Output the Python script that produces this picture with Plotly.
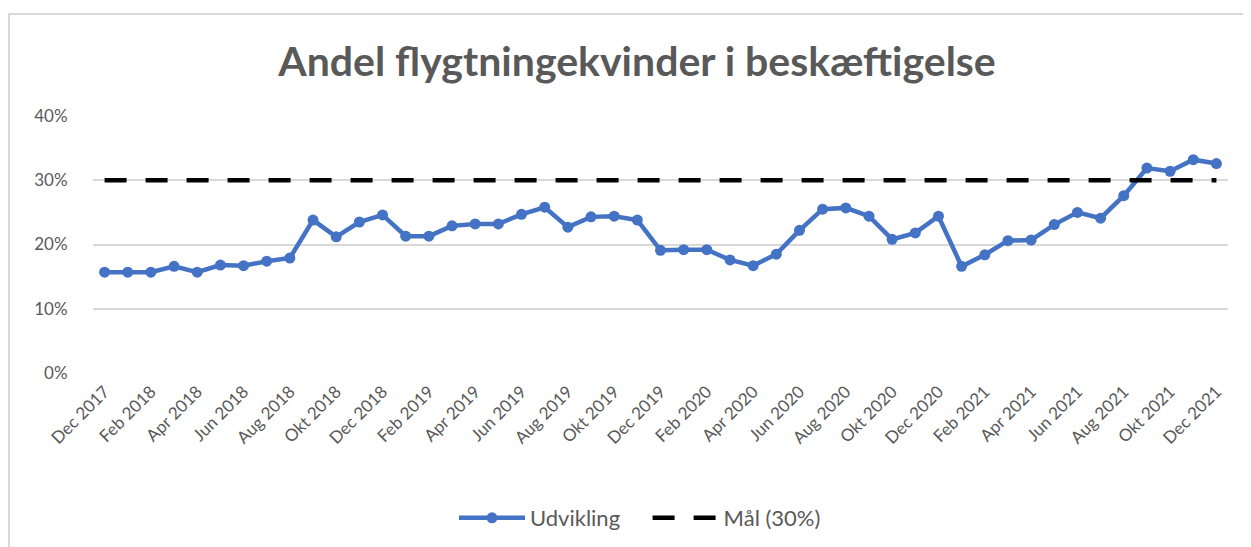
import plotly.graph_objects as go

months = [
    "Dec 2017", "Jan 2018", "Feb 2018", "Mar 2018", "Apr 2018", "Maj 2018", "Jun 2018",
    "Jul 2018", "Aug 2018", "Sep 2018", "Okt 2018", "Nov 2018", "Dec 2018",
    "Jan 2019", "Feb 2019", "Mar 2019", "Apr 2019", "Maj 2019", "Jun 2019",
    "Jul 2019", "Aug 2019", "Sep 2019", "Okt 2019", "Nov 2019", "Dec 2019",
    "Jan 2020", "Feb 2020", "Mar 2020", "Apr 2020", "Maj 2020", "Jun 2020",
    "Jul 2020", "Aug 2020", "Sep 2020", "Okt 2020", "Nov 2020", "Dec 2020",
    "Jan 2021", "Feb 2021", "Mar 2021", "Apr 2021", "Maj 2021", "Jun 2021",
    "Jul 2021", "Aug 2021", "Sep 2021", "Okt 2021", "Nov 2021", "Dec 2021",
]

udvikling = [
    0.157, 0.157, 0.157, 0.166, 0.157, 0.168, 0.167,
    0.174, 0.179, 0.238, 0.212, 0.235, 0.246,
    0.213, 0.213, 0.229, 0.232, 0.232, 0.247,
    0.258, 0.227, 0.243, 0.244, 0.238, 0.191,
    0.192, 0.192, 0.176, 0.167, 0.185, 0.222,
    0.255, 0.257, 0.244, 0.208, 0.218, 0.244,
    0.166, 0.184, 0.206, 0.207, 0.231, 0.250,
    0.241, 0.276, 0.319, 0.314, 0.332, 0.326,
]

maal = 0.30

tick_labels = [
    "Dec 2017", "Feb 2018", "Apr 2018", "Jun 2018", "Aug 2018", "Okt 2018", "Dec 2018",
    "Feb 2019", "Apr 2019", "Jun 2019", "Aug 2019", "Okt 2019", "Dec 2019",
    "Feb 2020", "Apr 2020", "Jun 2020", "Aug 2020", "Okt 2020", "Dec 2020",
    "Feb 2021", "Apr 2021", "Jun 2021", "Aug 2021", "Okt 2021", "Dec 2021",
]

y_ticks = [0, 0.1, 0.2, 0.3, 0.4]
y_tick_text = ["0%", "10%", "20%", "30%", "40%"]

FONT = "Lato, 'Open Sans', sans-serif"
GRAY = "#595959"

# The page places the figure at an 8px body margin; figure coords = page coords - 8
W, H = 1243, 539
PL, PR, PT, PB = 85, 1220, 108, 365  # plot area in figure coords

fig = go.Figure()

fig.add_trace(go.Scatter(
    x=months, y=udvikling, mode="lines+markers",
    name="Udvikling\u00a0\u00a0\u00a0\u00a0",
    line=dict(color="#4472C4", width=4.5),
    marker=dict(color="#4472C4", size=11),
))

fig.add_trace(go.Scatter(
    x=[months[0], months[-1]], y=[maal, maal], mode="lines", name="Mål (30%)",
    line=dict(color="black", width=4.5, dash="22px,19px"),
))

ph = PB - PT
pw = PR - PL

fig.update_layout(
    width=W, height=H,
    margin=dict(l=PL, r=W - PR, t=PT, b=H - PB, autoexpand=False),
    paper_bgcolor="white", plot_bgcolor="white",
    font=dict(family=FONT, color=GRAY, size=15),
    title=dict(
        text="<b>Andel flygtningekvinder i beskæftigelse</b>",
        x=(637 - 8) / W, xref="container", xanchor="center",
        y=1 - 54 / H, yref="container", yanchor="middle",
        font=dict(family=FONT, size=41, color=GRAY),
    ),
    showlegend=True,
    legend=dict(
        orientation="h", x=(640 - 8 - PL) / pw, xanchor="center",
        y=(PB - 510) / ph, yanchor="middle",
        font=dict(family=FONT, size=22, color=GRAY),
        itemwidth=66, traceorder="normal",
    ),
    xaxis=dict(
        type="category", categoryorder="array", categoryarray=months,
        range=[-0.5, len(months) - 0.5],
        tickmode="array", tickvals=tick_labels, ticktext=tick_labels,
        tickangle=-45, tickfont=dict(size=17, color=GRAY),
        showgrid=False, zeroline=False, showline=False,
        ticks="outside", ticklen=1, tickcolor="rgba(0,0,0,0)",
    ),
    yaxis=dict(
        range=[0, 0.4], tickvals=y_ticks, ticktext=y_tick_text,
        tickfont=dict(size=17, color=GRAY),
        showgrid=True, gridcolor="#d9d9d9", gridwidth=1.5,
        zeroline=False, showline=False,
        ticks="outside", ticklen=21, tickcolor="rgba(0,0,0,0)",
    ),
    shapes=[dict(
        type="rect", xref="paper", yref="paper",
        x0=(1 - PL) / pw, x1=1.2, y0=-1.0, y1=(PB - 6) / ph,
        line=dict(color="#d9d9d9", width=2), fillcolor="rgba(0,0,0,0)",
        layer="below",
    )],
)

fig.write_html("out.html")
